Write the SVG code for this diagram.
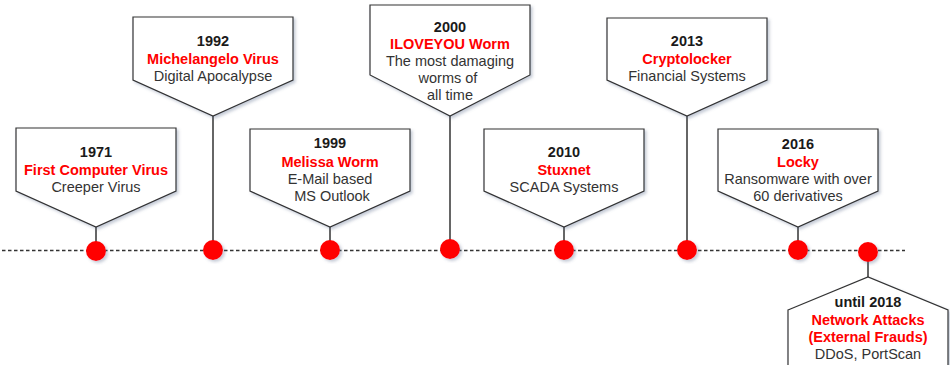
<svg xmlns="http://www.w3.org/2000/svg" width="950" height="365" viewBox="0 0 950 365">
  <defs>
    <filter id="shadow" x="-10%" y="-10%" width="130%" height="130%">
      <feDropShadow dx="2" dy="2" stdDeviation="1.5" flood-color="#5a6a8a" flood-opacity="0.35"/>
    </filter>
    <style>
      .box { fill: #ffffff; stroke: #333333; stroke-width: 1.2; filter: url(#shadow); }
      .dot { fill: #ff0000; filter: url(#shadow); }
      .stem { stroke: #333333; stroke-width: 1.5; fill: none; }
      .axis { stroke: #333333; stroke-width: 1.3; stroke-dasharray: 3.5 2.5; fill: none; }
      text { font-family: "Liberation Sans", Arial, sans-serif; font-size: 14.5px; text-anchor: middle; }
      .yr { font-weight: bold; fill: #1a1a1a; }
      .nm { font-weight: bold; fill: #ff0000; }
      .ds { fill: #333333; }
    </style>
  </defs>

  <!-- timeline axis and stems -->
  <g id="connectors">
    <line class="axis" x1="2" y1="250.5" x2="905" y2="250.5"/>
    <line class="stem" x1="96" y1="227" x2="96" y2="250"/>
    <line class="stem" x1="213" y1="116" x2="213" y2="250"/>
    <line class="stem" x1="330" y1="227" x2="330" y2="250"/>
    <line class="stem" x1="450" y1="116" x2="450" y2="250"/>
    <line class="stem" x1="564" y1="227" x2="564" y2="250"/>
    <line class="stem" x1="687" y1="116" x2="687" y2="250"/>
    <line class="stem" x1="798" y1="227" x2="798" y2="250"/>
    <line class="stem" x1="868" y1="252" x2="868" y2="277"/>
  </g>

  <g id="event-1971">
    <path class="box" d="M16,128 H176 V191 L96,227 L16,191 Z"/>
    <text class="yr" x="96" y="157">1971</text>
    <text class="nm" x="96" y="175">First Computer Virus</text>
    <text class="ds" x="96" y="192">Creeper Virus</text>
  </g>

  <g id="event-1992">
    <path class="box" d="M133,17 H293 V80 L213,116 L133,80 Z"/>
    <text class="yr" x="213" y="46">1992</text>
    <text class="nm" x="213" y="63.5">Michelangelo Virus</text>
    <text class="ds" x="213" y="80.5">Digital Apocalypse</text>
  </g>

  <g id="event-1999">
    <path class="box" d="M250,129 H410 V191 L330,227 L250,191 Z"/>
    <text class="yr" x="330" y="148">1999</text>
    <text class="nm" x="330" y="166.5">Melissa Worm</text>
    <text class="ds" x="330" y="184">E-Mail based</text>
    <text class="ds" x="332" y="201">MS Outlook</text>
  </g>

  <g id="event-2000">
    <path class="box" d="M370,5 H530 V75 L450,116 L370,75 Z"/>
    <text class="yr" x="450" y="32">2000</text>
    <text class="nm" x="450" y="49">ILOVEYOU Worm</text>
    <text class="ds" x="450" y="66">The most damaging</text>
    <text class="ds" x="448" y="83">worms of</text>
    <text class="ds" x="450" y="100">all time</text>
  </g>

  <g id="event-2010">
    <path class="box" d="M484,129 H644 V191 L564,227 L484,191 Z"/>
    <text class="yr" x="564" y="157">2010</text>
    <text class="nm" x="564" y="174.5">Stuxnet</text>
    <text class="ds" x="564" y="191.5">SCADA Systems</text>
  </g>

  <g id="event-2013">
    <path class="box" d="M607,18 H767 V80 L687,116 L607,80 Z"/>
    <text class="yr" x="687" y="46">2013</text>
    <text class="nm" x="687" y="63.5">Cryptolocker</text>
    <text class="ds" x="687" y="80.5">Financial Systems</text>
  </g>

  <g id="event-2016">
    <path class="box" d="M718,129 H878 V191 L798,227 L718,191 Z"/>
    <text class="yr" x="798" y="149">2016</text>
    <text class="nm" x="798" y="167">Locky</text>
    <text class="ds" x="798" y="184">Ransomware with over</text>
    <text class="ds" x="798" y="201">60 derivatives</text>
  </g>

  <g id="event-2018">
    <path class="box" d="M788,310 L868,277 L948,310 V372 H788 Z"/>
    <text class="yr" x="868" y="307">until 2018</text>
    <text class="nm" x="868" y="325">Network Attacks</text>
    <text class="nm" x="868" y="342">(External Frauds)</text>
    <text class="ds" x="868" y="359">DDoS, PortScan</text>
  </g>

  <g id="dots">
    <circle id="dot-1971" class="dot" cx="96" cy="251" r="10"/>
    <circle id="dot-1992" class="dot" cx="213" cy="250" r="10"/>
    <circle id="dot-1999" class="dot" cx="330" cy="250" r="10"/>
    <circle id="dot-2000" class="dot" cx="450" cy="249" r="10"/>
    <circle id="dot-2010" class="dot" cx="564" cy="250" r="10"/>
    <circle id="dot-2013" class="dot" cx="687" cy="250" r="10"/>
    <circle id="dot-2016" class="dot" cx="798" cy="250" r="10"/>
    <circle id="dot-2018" class="dot" cx="868" cy="252" r="10"/>
  </g>
</svg>
